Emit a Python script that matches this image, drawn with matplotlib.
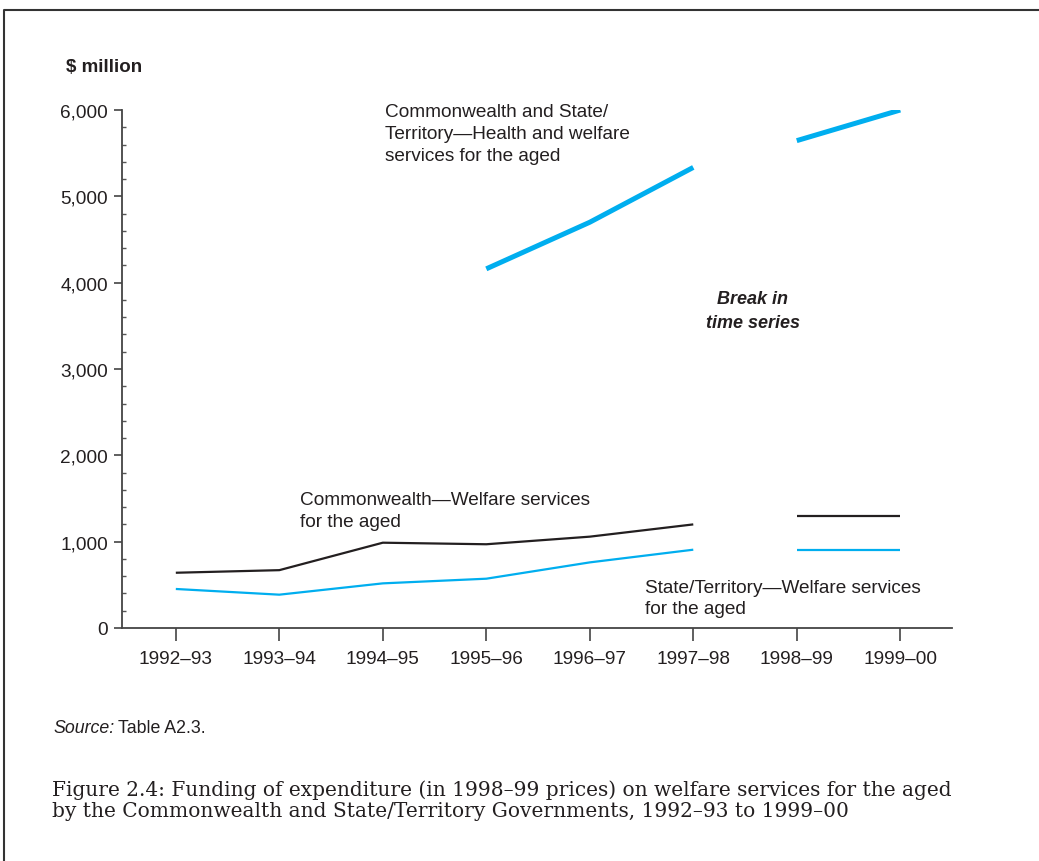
import matplotlib
matplotlib.use('Agg')
import matplotlib.pyplot as plt
from matplotlib.lines import Line2D
from matplotlib.ticker import FuncFormatter, MultipleLocator
import numpy as np

# Données ($ million, prix 1998-99)
years = ['1992–93', '1993–94', '1994–95', '1995–96', '1996–97', '1997–98', '1998–99', '1999–00']
cw_state_health = [np.nan, np.nan, np.nan, 4160, 4700, 5335, 5645, 6000]
cw_welfare = [640, 670, 988, 970, 1058, 1200, 1300, 1300]
state_welfare = [452, 386, 517, 571, 760, 907, 900, 900]
break_after = 5  # rupture de série entre 1997-98 et 1998-99

W, H = 1039, 862
plt.rcParams['font.family'] = ['Liberation Sans', 'DejaVu Sans']

fig = plt.figure(figsize=(W / 100, H / 100), dpi=100)


def fx(px):
    return px / W


def fy(py):
    return 1 - py / H


ax = fig.add_axes([fx(122), fy(629), fx(952) - fx(122), fy(111) - fy(629)])

blue = '#00aeef'
black = '#231f20'
x = np.arange(len(years))
seg1 = slice(0, break_after + 1)
seg2 = slice(break_after + 1, len(years))

for s in (seg1, seg2):
    ax.plot(x[s], np.array(cw_state_health)[s], color=blue, lw=3.6, solid_capstyle='butt')
    ax.plot(x[s], np.array(cw_welfare)[s], color=black, lw=1.6, solid_capstyle='butt')
    ax.plot(x[s], np.array(state_welfare)[s], color=blue, lw=1.6, solid_capstyle='butt')

ax.set_xlim(-0.52, 7.5)
ax.set_ylim(0, 6000)
ax.set_xticks(x)
ax.set_xticklabels(years, fontsize=13.7, color='#231f20')
ax.yaxis.set_major_locator(MultipleLocator(1000))
ax.yaxis.set_minor_locator(MultipleLocator(200))
ax.yaxis.set_major_formatter(FuncFormatter(lambda v, p: f'{int(v):,}'))
ax.yaxis.set_tick_params(which='major', direction='out', length=6, width=1.2,
                         labelsize=13.7, labelcolor='#231f20', color='#444444', pad=4)
ax.yaxis.set_tick_params(which='minor', direction='in', length=3, width=1, color='#555555')
ax.xaxis.set_tick_params(direction='out', length=9, width=1.2, color='#444444', pad=7)

for side in ('top', 'right'):
    ax.spines[side].set_visible(False)
for side in ('left', 'bottom'):
    ax.spines[side].set_linewidth(1.3)
    ax.spines[side].set_color('#444444')


# Étiquettes des séries (coordonnées en pixels -> données)
def dx(px):
    return (px - 176) / 103.35


def dy(py):
    return (629 - py) / 86.33 * 1000


txt = dict(fontsize=13.7, color='#231f20', va='top', ha='left', linespacing=1.4)
ax.text(dx(385), dy(104), 'Commonwealth and State/\nTerritory—Health and welfare\nservices for the aged',
        clip_on=False, **txt)
ax.text(dx(300), dy(492), 'Commonwealth—Welfare services\nfor the aged', **txt)
ax.text(dx(645), dy(580), 'State/Territory—Welfare services\nfor the aged', linespacing=1.3,
        **{k: v for k, v in txt.items() if k != 'linespacing'})
ax.text(dx(752), dy(291), 'Break in\ntime series', fontsize=13, fontweight='bold', style='italic',
        color='#231f20', ha='center', va='top', linespacing=1.55)

fig.text(fx(66), fy(67), '$ million', fontsize=13.5, fontweight='bold', color='#231f20', va='center')

fig.text(fx(53), fy(729), 'Source:', fontsize=12.8, style='italic', color='#231f20', va='center')
fig.text(fx(118), fy(729), 'Table A2.3.', fontsize=12.8, color='#231f20', va='center')

fig.text(fx(52), fy(780), 'Figure 2.4: Funding of expenditure (in 1998–99 prices) on welfare services for the aged\n'
         'by the Commonwealth and State/Territory Governments, 1992–93 to 1999–00',
         family='DejaVu Serif', fontsize=14.5, color='#231f20', va='top', linespacing=1.15)

# Cadre de la page
fig.add_artist(Line2D([fx(4), fx(4), 1], [0, fy(11), fy(11)], color='#333333', lw=1.5))

fig.savefig('out.png', dpi=100)
